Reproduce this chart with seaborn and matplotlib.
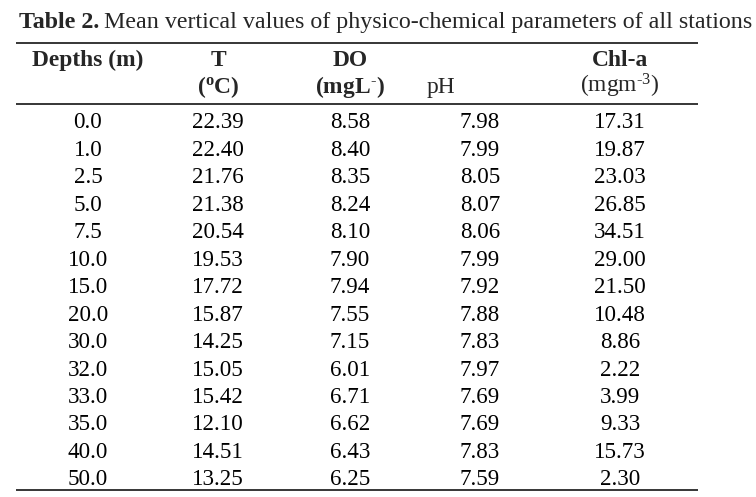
import matplotlib
matplotlib.use("Agg")
import matplotlib.pyplot as plt
import seaborn as sns
import pandas as pd

# Table values (Table 2: mean vertical values, all stations)
depths = [0.0, 1.0, 2.5, 5.0, 7.5, 10.0, 15.0, 20.0, 30.0, 32.0, 33.0, 35.0, 40.0, 50.0]
temp = [22.39, 22.40, 21.76, 21.38, 20.54, 19.53, 17.72, 15.87, 14.25, 15.05, 15.42, 12.10, 14.51, 13.25]
do = [8.58, 8.40, 8.35, 8.24, 8.10, 7.90, 7.94, 7.55, 7.15, 6.01, 6.71, 6.62, 6.43, 6.25]
ph = [7.98, 7.99, 8.05, 8.07, 8.06, 7.99, 7.92, 7.88, 7.83, 7.97, 7.69, 7.69, 7.83, 7.59]
chla = [17.31, 19.87, 23.03, 26.85, 34.51, 29.00, 21.50, 10.48, 8.86, 2.22, 3.99, 9.33, 15.73, 2.30]

caption_bold = "Table 2."
caption_rest = "Mean vertical values of physico-chemical parameters of all stations"

df = pd.DataFrame({"depth": depths, "T": temp, "DO": do, "pH": ph, "Chl-a": chla})
formats = {"depth": "{:.1f}", "T": "{:.2f}", "DO": "{:.2f}", "pH": "{:.2f}", "Chl-a": "{:.2f}"}

sns.set_theme(style="white")
plt.rcParams["font.family"] = ["Liberation Serif", "DejaVu Serif"]
plt.rcParams["mathtext.fontset"] = "custom"
plt.rcParams["mathtext.rm"] = "Liberation Serif"
plt.rcParams["mathtext.it"] = "Liberation Serif:italic"
plt.rcParams["mathtext.bf"] = "Liberation Serif:bold"

fs_body = 16.6
fs_head = 16.9
fs_cap = 17.3
W, H = 756, 497

fig = plt.figure(figsize=(W / 100, H / 100), dpi=100)
ax = fig.add_axes([0, 0, 1, 1])
ax.set_xlim(0, W)
ax.set_ylim(H, 0)
ax.axis("off")

# column centres (pixels)
col_x = {"depth": 88, "T": 218, "DO": 350, "pH": 480, "Chl-a": 620}

# caption: bold label then regular text right after it
t1 = ax.text(19, 28, caption_bold, fontsize=fs_cap, fontweight="bold", ha="left", va="baseline")
fig.canvas.draw()
bb = t1.get_window_extent()
x_rest = bb.x1 + 5
ax.text(x_rest, 28, caption_rest, fontsize=fs_cap, ha="left", va="baseline")

# rules
ax.hlines([42.5, 104, 490], 16, 698, color="black", lw=1.1)

# header
h1, h2 = 66, 93
ax.text(col_x["depth"], h1, "Depths (m)", fontsize=fs_head, fontweight="bold", ha="center", va="baseline")
ax.text(col_x["T"], h1, "T", fontsize=fs_head, fontweight="bold", ha="center", va="baseline")
ax.text(col_x["T"], h2, r"$\mathbf{(^{o}C)}$", fontsize=fs_head, ha="center", va="baseline")
ax.text(col_x["DO"], h1, "DO", fontsize=fs_head, fontweight="bold", ha="center", va="baseline")
ax.text(col_x["DO"], h2, r"$\mathbf{(mgL^{\text{-}})}$", fontsize=fs_head, ha="center", va="baseline")
ax.text(427, h2, "pH", fontsize=fs_head, ha="left", va="baseline")
ax.text(col_x["Chl-a"], h1, "Chl-a", fontsize=fs_head, fontweight="bold", ha="center", va="baseline")
ax.text(col_x["Chl-a"], h2, r"(mgm$^{\text{-}3}$)", fontsize=fs_head, ha="center", va="baseline")

# body rows
row0, row_step = 128.5, 27.45
for i, row in df.iterrows():
    y = row0 + i * row_step
    for col in df.columns:
        ax.text(col_x[col], y, formats[col].format(row[col]), fontsize=fs_body,
                ha="center", va="baseline", color="black")

fig.savefig("out.png", dpi=100, facecolor="white")
plt.close(fig)
